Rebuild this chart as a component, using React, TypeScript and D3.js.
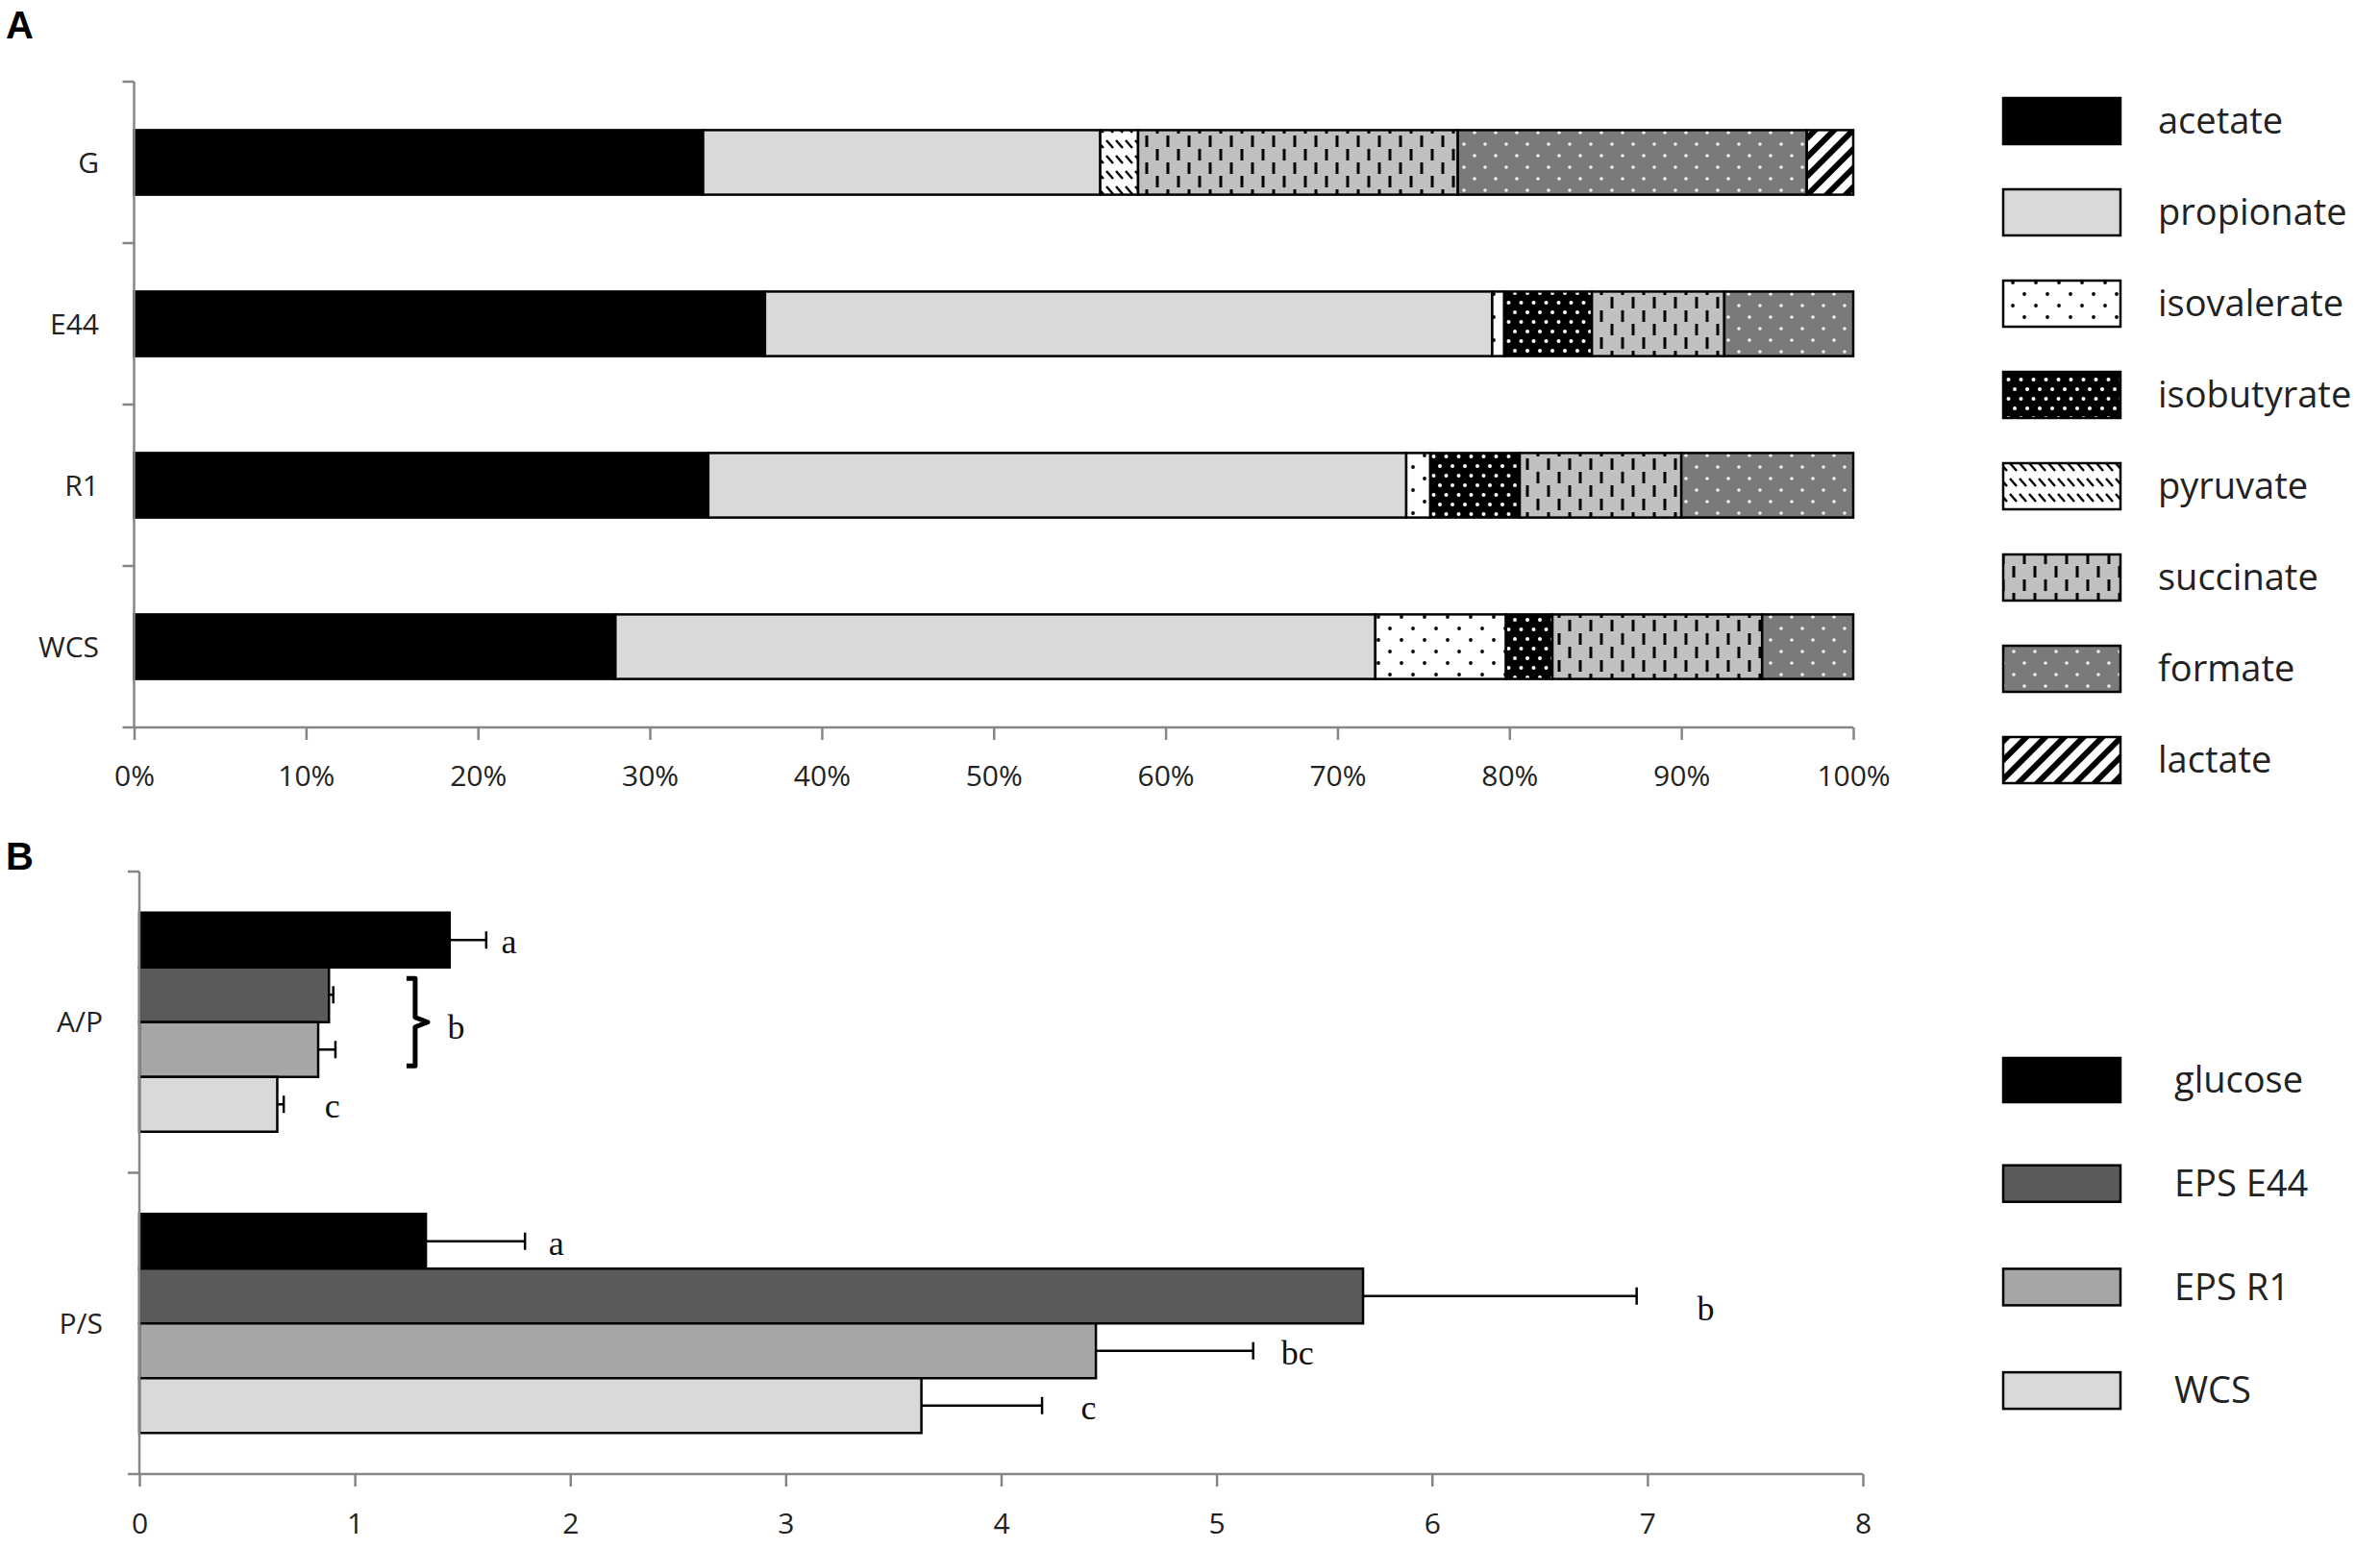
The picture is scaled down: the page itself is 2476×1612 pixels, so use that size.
import { useEffect, useRef } from "react";
import * as d3 from "d3";

// ---- Panel A data: share (%) of each fermentation product per substrate
const samples = ["G", "E44", "R1", "WCS"];
const acids = ["acetate", "propionate", "isovalerate", "isobutyrate", "pyruvate", "succinate", "formate", "lactate"];
const acetate = [33.1, 36.7, 33.4, 28.0];
const propionate = [23.1, 42.3, 40.6, 44.2];
const isovalerate = [0, 0.7, 1.4, 7.6];
const isobutyrate = [0, 5.1, 5.2, 2.7];
const pyruvate = [2.2, 0, 0, 0];
const succinate = [18.6, 7.7, 9.4, 12.2];
const formate = [20.3, 7.5, 10.0, 5.3];
const lactate = [2.7, 0, 0, 0];
const pctTicks = [0, 10, 20, 30, 40, 50, 60, 70, 80, 90, 100];

// ---- Panel B data: ratios with error bars
const ratios = ["A/P", "P/S"];
const substrates = ["glucose", "EPS E44", "EPS R1", "WCS"];
const apMean = [1.44, 0.88, 0.83, 0.64];
const apErr = [0.17, 0.02, 0.08, 0.03];
const psMean = [1.33, 5.68, 4.44, 3.63];
const psErr = [0.46, 1.27, 0.73, 0.56];
// significance letters (x in data units, null = no letter)
const apLetters = ["a", null, null, "c"];
const apLetterX = [1.68, null, null, 0.86];
const psLetters = ["a", "b", "bc", "c"];
const psLetterX = [1.9, 7.23, 5.3, 4.37];
const ratioTicks = [0, 1, 2, 3, 4, 5, 6, 7, 8];

const SANS = "'Open Sans', 'DejaVu Sans', sans-serif";
const SERIF = "'Liberation Serif', 'DejaVu Serif', serif";
const AXIS = "#868686";

export default function App() {
  const svgRef = useRef<SVGSVGElement>(null);

  useEffect(() => {
    if (!svgRef.current) return;
    const svg = d3.select(svgRef.current);
    svg.selectAll("*").remove();

    // patterns
    const defs = svg.append("defs");
    const pat = (id: string, w: number, h: number, bg: string) => {
      const p = defs
        .append("pattern")
        .attr("id", id)
        .attr("patternUnits", "userSpaceOnUse")
        .attr("width", w)
        .attr("height", h);
      p.append("rect").attr("width", w).attr("height", h).attr("fill", bg);
      return p;
    };
    const pIv = pat("isoval", 24, 24, "#fff");
    pIv.append("circle").attr("cx", 6).attr("cy", 6).attr("r", 1.9).attr("fill", "#000");
    pIv.append("circle").attr("cx", 18).attr("cy", 18).attr("r", 1.9).attr("fill", "#000");
    const pIb = pat("isobut", 13, 20, "#000");
    pIb.append("circle").attr("cx", 3).attr("cy", 5).attr("r", 2).attr("fill", "#fff");
    pIb.append("circle").attr("cx", 9.5).attr("cy", 15).attr("r", 2).attr("fill", "#fff");
    const pPy = pat("pyruv", 10, 16, "#fff");
    pPy.append("line").attr("x1", 1).attr("y1", 2).attr("x2", 8).attr("y2", 10)
      .attr("stroke", "#000").attr("stroke-width", 2.4);
    const pSu = pat("succ", 22, 28, "#c0c0c0");
    pSu.append("line").attr("x1", 5).attr("y1", 1).attr("x2", 5).attr("y2", 13)
      .attr("stroke", "#000").attr("stroke-width", 3);
    pSu.append("line").attr("x1", 16).attr("y1", 15).attr("x2", 16).attr("y2", 27)
      .attr("stroke", "#000").attr("stroke-width", 3);
    const pFo = pat("form", 22, 24, "#7a7a7a");
    pFo.append("circle").attr("cx", 5).attr("cy", 6).attr("r", 1.8).attr("fill", "#f0f0f0");
    pFo.append("circle").attr("cx", 16).attr("cy", 18).attr("r", 1.8).attr("fill", "#f0f0f0");
    const pLa = defs
      .append("pattern")
      .attr("id", "lact")
      .attr("patternUnits", "userSpaceOnUse")
      .attr("width", 14)
      .attr("height", 14)
      .attr("patternTransform", "rotate(45)");
    pLa.append("rect").attr("width", 14).attr("height", 14).attr("fill", "#fff");
    pLa.append("rect").attr("width", 6).attr("height", 14).attr("fill", "#000");

    const acidFill: Record<string, string> = {
      acetate: "#000",
      propionate: "#d9d9d9",
      isovalerate: "url(#isoval)",
      isobutyrate: "url(#isobut)",
      pyruvate: "url(#pyruv)",
      succinate: "url(#succ)",
      formate: "url(#form)",
      lactate: "url(#lact)",
    };

    // panel letters
    svg.append("text").attr("x", 6).attr("y", 40).attr("font-family", "'Liberation Sans', Arial, sans-serif")
      .attr("font-weight", "bold").attr("font-size", 40).text("A");
    svg.append("text").attr("x", 6).attr("y", 905).attr("font-family", "'Liberation Sans', Arial, sans-serif")
      .attr("font-weight", "bold").attr("font-size", 40).text("B");

    // ================= Panel A =================
    const xA = d3.scaleLinear().domain([0, 100]).range([139.5, 1928]);
    const yA = d3.scaleBand().domain(samples).range([85, 757]).paddingInner(0.6).paddingOuter(0.3);
    const gA = svg.append("g");

    const rows = samples.map((s, i) => ({
      sample: s,
      acetate: acetate[i],
      propionate: propionate[i],
      isovalerate: isovalerate[i],
      isobutyrate: isobutyrate[i],
      pyruvate: pyruvate[i],
      succinate: succinate[i],
      formate: formate[i],
      lactate: lactate[i],
    }));
    const stacked = d3.stack<any>().keys(acids)(rows);

    stacked.forEach((layer) => {
      gA.append("g")
        .selectAll("rect")
        .data(layer.filter((d) => d[1] - d[0] > 0))
        .join("rect")
        .attr("x", (d) => xA(d[0]))
        .attr("y", (d) => yA(d.data.sample)!)
        .attr("width", (d) => xA(d[1]) - xA(d[0]))
        .attr("height", yA.bandwidth())
        .attr("fill", acidFill[layer.key])
        .attr("stroke", "#000")
        .attr("stroke-width", 2.5);
    });

    // axes A
    const stepA = yA.step();
    const [topA, botA] = yA.range();
    gA.append("line").attr("x1", xA(0)).attr("x2", xA(0)).attr("y1", topA).attr("y2", botA)
      .attr("stroke", AXIS).attr("stroke-width", 2.5);
    d3.range(samples.length + 1).forEach((i) => {
      gA.append("line").attr("x1", xA(0) - 12).attr("x2", xA(0)).attr("y1", topA + i * stepA).attr("y2", topA + i * stepA)
        .attr("stroke", AXIS).attr("stroke-width", 2.5);
    });
    gA.append("line").attr("x1", xA(0)).attr("x2", xA(100)).attr("y1", botA).attr("y2", botA)
      .attr("stroke", AXIS).attr("stroke-width", 2.5);
    const axA = gA.append("g").attr("transform", `translate(0,${botA})`)
      .call(d3.axisBottom(xA).tickValues(pctTicks).tickSize(13).tickSizeOuter(0).tickFormat((d) => `${d}%`));
    axA.select(".domain").remove();
    axA.selectAll("line").attr("stroke", AXIS).attr("stroke-width", 2.5);
    axA.selectAll("text").attr("y", 50).attr("dy", "0.35em").attr("font-size", 30)
      .attr("font-family", SANS).attr("fill", "#222");
    gA.selectAll(".catA")
      .data(samples)
      .join("text")
      .attr("x", 103)
      .attr("y", (d) => yA(d)! + yA.bandwidth() / 2)
      .attr("dy", "0.35em")
      .attr("text-anchor", "end")
      .attr("font-size", 30)
      .attr("font-family", SANS)
      .attr("fill", "#222")
      .text((d) => d);

    // legend A
    const legA = svg.append("g");
    acids.forEach((a, i) => {
      const cy = 126 + i * 95;
      legA.append("rect").attr("x", 2084).attr("y", cy - 24).attr("width", 122).attr("height", 48)
        .attr("fill", acidFill[a]).attr("stroke", "#000").attr("stroke-width", 2.5);
      legA.append("text").attr("x", 2245).attr("y", cy).attr("dy", "0.35em").attr("font-size", 38)
        .attr("font-family", SANS).attr("fill", "#222").text(a);
    });

    // ================= Panel B =================
    const xB = d3.scaleLinear().domain([0, 8]).range([145, 1938]);
    const yB = d3.scaleBand().domain(ratios).range([907, 1534]);
    const yInner = d3.scaleBand().domain(substrates).range([0, yB.bandwidth()]).paddingOuter(0.75);
    const subFill = ["#000", "#5a5a5a", "#a6a6a6", "#d9d9d9"];
    const gB = svg.append("g");

    const groups = [
      { ratio: "A/P", mean: apMean, err: apErr, letters: apLetters, lx: apLetterX },
      { ratio: "P/S", mean: psMean, err: psErr, letters: psLetters, lx: psLetterX },
    ];

    groups.forEach((g) => {
      const gy = yB(g.ratio)!;
      const items = substrates.map((s, i) => ({ s, i, m: g.mean[i], e: g.err[i], l: g.letters[i], lx: g.lx[i] }));
      gB.append("g")
        .selectAll("rect")
        .data(items)
        .join("rect")
        .attr("x", xB(0))
        .attr("y", (d) => gy + yInner(d.s)!)
        .attr("width", (d) => xB(d.m) - xB(0))
        .attr("height", yInner.bandwidth())
        .attr("fill", (d) => subFill[d.i])
        .attr("stroke", "#000")
        .attr("stroke-width", 2.5);
      items.forEach((d) => {
        const cy = gy + yInner(d.s)! + yInner.bandwidth() / 2;
        gB.append("line").attr("x1", xB(d.m)).attr("x2", xB(d.m + d.e)).attr("y1", cy).attr("y2", cy)
          .attr("stroke", "#000").attr("stroke-width", 2.5);
        gB.append("line").attr("x1", xB(d.m + d.e)).attr("x2", xB(d.m + d.e)).attr("y1", cy - 9).attr("y2", cy + 9)
          .attr("stroke", "#000").attr("stroke-width", 2.5);
        if (d.l && d.lx != null) {
          gB.append("text").attr("x", xB(d.lx)).attr("y", cy + (d.l === "b" ? 14 : 3)).attr("dy", "0.3em")
            .attr("font-size", 36).attr("font-family", SERIF).attr("fill", "#111").text(d.l);
        }
      });
    });

    // brace for shared "b" on A/P (EPS E44 + EPS R1)
    const apY = yB("A/P")!;
    const bTop = apY + yInner("EPS E44")! + yInner.bandwidth() * 0.2;
    const bBot = apY + yInner("EPS R1")! + yInner.bandwidth() * 0.8;
    const bMid = (bTop + bBot) / 2;
    const bx = xB(1.24);
    gB.append("path")
      .attr("d", `M${bx},${bTop} H${bx + 9} V${bMid - 5} L${bx + 22},${bMid} L${bx + 9},${bMid + 5} V${bBot} H${bx}`)
      .attr("fill", "none").attr("stroke", "#000").attr("stroke-width", 5).attr("stroke-linejoin", "round");
    gB.append("text").attr("x", xB(1.43)).attr("y", bMid + 6).attr("dy", "0.3em")
      .attr("font-size", 36).attr("font-family", SERIF).attr("fill", "#111").text("b");

    // axes B
    const [topB, botB] = yB.range();
    gB.append("line").attr("x1", xB(0)).attr("x2", xB(0)).attr("y1", topB).attr("y2", botB)
      .attr("stroke", AXIS).attr("stroke-width", 2.5);
    d3.range(ratios.length + 1).forEach((i) => {
      gB.append("line").attr("x1", xB(0) - 12).attr("x2", xB(0)).attr("y1", topB + i * yB.step()).attr("y2", topB + i * yB.step())
        .attr("stroke", AXIS).attr("stroke-width", 2.5);
    });
    gB.append("line").attr("x1", xB(0)).attr("x2", xB(8)).attr("y1", botB).attr("y2", botB)
      .attr("stroke", AXIS).attr("stroke-width", 2.5);
    const axB = gB.append("g").attr("transform", `translate(0,${botB})`)
      .call(d3.axisBottom(xB).tickValues(ratioTicks).tickSize(13).tickSizeOuter(0).tickFormat(d3.format("d")));
    axB.select(".domain").remove();
    axB.selectAll("line").attr("stroke", AXIS).attr("stroke-width", 2.5);
    axB.selectAll("text").attr("y", 51).attr("dy", "0.35em").attr("font-size", 30)
      .attr("font-family", SANS).attr("fill", "#222");
    gB.selectAll(".catB")
      .data(ratios)
      .join("text")
      .attr("x", 107)
      .attr("y", (d) => yB(d)! + yB.bandwidth() / 2)
      .attr("dy", "0.35em")
      .attr("text-anchor", "end")
      .attr("font-size", 30)
      .attr("font-family", SANS)
      .attr("fill", "#222")
      .text((d) => d);

    // legend B
    const legB = svg.append("g");
    substrates.forEach((s, i) => {
      const cy = 1124 + i * 107.7;
      const h = i === 0 ? 46 : 38;
      legB.append("rect").attr("x", 2084).attr("y", cy - h / 2).attr("width", 122).attr("height", h)
        .attr("fill", subFill[i]).attr("stroke", "#000").attr("stroke-width", 2.5);
      legB.append("text").attr("x", 2262).attr("y", cy).attr("dy", "0.35em").attr("font-size", 38)
        .attr("font-family", SANS).attr("fill", "#222").text(s);
    });
  }, []);

  return (
    <svg
      ref={svgRef}
      width={2476}
      height={1612}
      style={{ position: "absolute", left: 0, top: 0, display: "block", background: "#fff" }}
    ></svg>
  );
}
